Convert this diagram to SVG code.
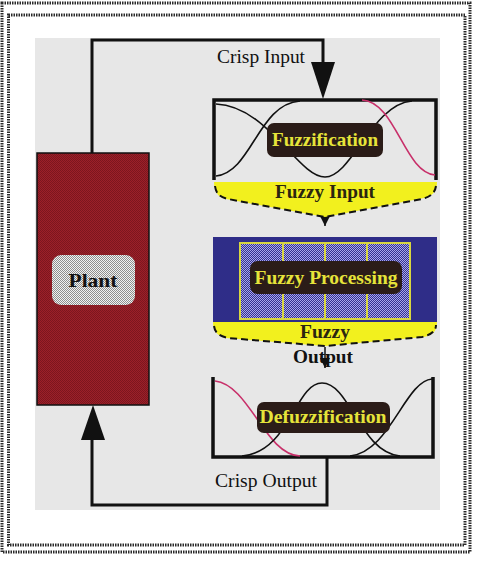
<svg xmlns="http://www.w3.org/2000/svg" width="480" height="570" viewBox="0 0 480 570">
<defs>
<pattern id="redDither" width="2" height="2" patternUnits="userSpaceOnUse">
<rect width="2" height="2" fill="#9c2029"/>
<rect width="1" height="1" fill="#7c161e"/>
<rect x="1" y="1" width="1" height="1" fill="#7c161e"/>
</pattern>
<pattern id="blueDither" width="2" height="2" patternUnits="userSpaceOnUse">
<rect width="2" height="2" fill="#34328f"/>
<rect width="1" height="1" fill="#a8a6ec"/>
<rect x="1" y="1" width="1" height="1" fill="#a8a6ec"/>
</pattern>
<pattern id="grayDither" width="2" height="2" patternUnits="userSpaceOnUse">
<rect width="2" height="2" fill="#f2f2f2"/>
<rect width="1" height="1" fill="#8e8e8e"/>
<rect x="1" y="1" width="1" height="1" fill="#8e8e8e"/>
</pattern>
<marker id="smallArrow" viewBox="0 0 10 10" refX="10" refY="5" markerWidth="10" markerHeight="10" markerUnits="userSpaceOnUse" orient="auto">
<path d="M0,0 L10,5 L0,10 Z" fill="#111"/>
</marker>
</defs>
<style>
.frame{fill:none;stroke:#2a2a2a;stroke-width:3;stroke-dasharray:1.5 1}
.wire{fill:none;stroke:#111;stroke-width:3}
.box{fill:none;stroke:#111;stroke-width:3.5}
.curve{fill:none;stroke:#111;stroke-width:1.6}
.red{stroke:#c8306a}
.label{fill:#2b1c18}
.ylab{font-family:"Liberation Serif",serif;font-weight:bold;font-size:19px;fill:#e6e43a;text-anchor:middle}
.btxt{font-family:"Liberation Serif",serif;font-size:19px;fill:#111;text-anchor:middle}
.bold{font-weight:bold}
.olive{fill:#2a2610}
.yellow{fill:#f2f01e}
.dash{fill:none;stroke:#111;stroke-width:2;stroke-dasharray:7 4}
</style>
<rect width="480" height="570" fill="#ffffff"/>
<rect class="frame" x="2" y="3" width="468" height="549"/>
<rect class="frame" x="8.5" y="15" width="456.5" height="530"/>
<rect x="35" y="38" width="405" height="472" fill="#e7e7e7"/>

<g id="connectors">
<path class="wire" d="M92,153 V40 H323 V64"/>
<path d="M311,62 L335,62 L323,99 Z" fill="#111"/>
<path class="wire" d="M327,458 V505 H92 V438"/>
<path d="M81,440 L105,440 L93,405 Z" fill="#111"/>
<path d="M325,216 V226" fill="none" stroke="#111" stroke-width="1.5" marker-end="url(#smallArrow)"/>
<path d="M325,347 V368" fill="none" stroke="#111" stroke-width="1.5" marker-end="url(#smallArrow)"/>
</g>
<text class="btxt" x="261" y="63" textLength="88" lengthAdjust="spacingAndGlyphs">Crisp Input</text>
<text class="btxt" x="266" y="487" textLength="102" lengthAdjust="spacingAndGlyphs">Crisp Output</text>

<g id="plant">
<rect x="37" y="153" width="112" height="252" fill="url(#redDither)" stroke="#111" stroke-width="1.5"/>
<rect x="52" y="255" width="83" height="50" rx="9" fill="url(#grayDither)"/>
<text class="btxt bold" x="93" y="287" font-size="21" textLength="49" lengthAdjust="spacingAndGlyphs">Plant</text>
</g>

<g id="fuzzification">
<path class="box" d="M214,180 V100 H436 V180"/>
<path class="curve" d="M216,176 C252,172 258,104 300,101"/>
<path class="curve" d="M216,104 C268,106 298,177 325,177 C352,177 372,104 412,101"/>
<path class="curve red" d="M362,100 C396,102 404,172 435,175"/>
<rect class="label" x="267" y="123" width="116" height="34" rx="7"/>
<text class="ylab" x="325" y="146" textLength="106" lengthAdjust="spacingAndGlyphs">Fuzzification</text>
</g>

<g id="fuzzy-input">
<path class="yellow" d="M214,182 H437 C437,192 432,196 424,198 L325,217 L226,199 C218,197 214,192 214,182 Z"/>
<path class="dash" d="M215,186 C216,194 220,197 228,199 L325,217 L422,199 C430,197 435,193 436,186"/>
<text class="btxt bold olive" x="325" y="198" textLength="100" lengthAdjust="spacingAndGlyphs">Fuzzy Input</text>
</g>

<g id="fuzzy-processing">
<rect x="213" y="237" width="224" height="85" fill="#2f2d88"/>
<rect x="240" y="243" width="170" height="76" fill="url(#blueDither)" stroke="#d8d640" stroke-width="2"/>
<path d="M283,243 V319 M325,243 V319 M367,243 V319" stroke="#d8d640" stroke-width="2"/>
<rect class="label" x="250" y="261" width="152" height="33" rx="8"/>
<text class="ylab" x="326" y="284" textLength="143" lengthAdjust="spacingAndGlyphs">Fuzzy Processing</text>
</g>

<g id="fuzzy-output">
<path class="yellow" d="M213,322 H437 C437,332 432,335 424,337 L325,346 L226,338 C218,336 213,332 213,322 Z"/>
<path class="dash" d="M214,326 C215,333 219,336 228,338 L325,346 L422,337 C431,335 436,331 436,325"/>
<text class="btxt bold olive" x="325" y="338" textLength="50" lengthAdjust="spacingAndGlyphs">Fuzzy</text>
<text class="btxt bold" x="323" y="363" textLength="60" lengthAdjust="spacingAndGlyphs">Output</text>
</g>

<g id="defuzzification">
<path class="box" d="M213,377 V457 H433 V377"/>
<path class="curve red" d="M215,381 C250,385 265,455 300,456"/>
<path class="curve" d="M242,456 C290,452 295,383 322,383 C350,383 360,452 400,456"/>
<path class="curve" d="M350,456 C390,452 405,381 432,379"/>
<rect class="label" x="257" y="402" width="133" height="31" rx="7"/>
<text class="ylab" x="323" y="423" textLength="127" lengthAdjust="spacingAndGlyphs">Defuzzification</text>
</g>
</svg>
